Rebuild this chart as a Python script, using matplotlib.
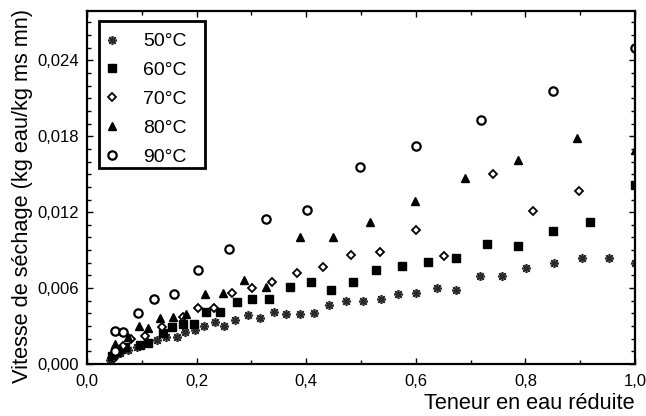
import matplotlib
matplotlib.use("Agg")
import matplotlib.pyplot as plt
from matplotlib.ticker import MultipleLocator, FuncFormatter
from matplotlib.patches import Rectangle

plt.rcParams['font.family'] = ['Liberation Sans', 'DejaVu Sans']

# 50°C
x50 = [0.042, 0.048, 0.060, 0.075, 0.091, 0.109, 0.127, 0.145, 0.164, 0.179, 0.197, 0.213, 0.233,
       0.250, 0.270, 0.293, 0.316, 0.341, 0.364, 0.389, 0.414, 0.442, 0.472, 0.503, 0.536, 0.568,
       0.601, 0.638, 0.674, 0.718, 0.757, 0.802, 0.852, 0.903, 0.953, 1.000]
y50 = [0.0003, 0.00058, 0.00084, 0.0011, 0.00137, 0.00176, 0.0019, 0.00216, 0.00216, 0.0025, 0.00268,
       0.00302, 0.00334, 0.00302, 0.00347, 0.00387, 0.00367, 0.00408, 0.00395, 0.00395, 0.00407,
       0.00466, 0.00501, 0.00501, 0.00512, 0.0055, 0.00564, 0.00598, 0.00586, 0.00692, 0.00692,
       0.00755, 0.00801, 0.00835, 0.00835, 0.00797]
# 60°C
x60 = [0.045, 0.054, 0.069, 0.097, 0.112, 0.139, 0.155, 0.175, 0.195, 0.217, 0.243, 0.274, 0.302,
       0.333, 0.370, 0.409, 0.445, 0.485, 0.527, 0.575, 0.623, 0.673, 0.730, 0.787, 0.850, 0.918, 1.000]
y60 = [0.0006, 0.00097, 0.00137, 0.0015, 0.00168, 0.00247, 0.00295, 0.00316, 0.00313, 0.00408, 0.00408,
       0.00492, 0.00511, 0.00511, 0.0061, 0.0065, 0.00588, 0.00647, 0.00742, 0.00776, 0.00803, 0.00839,
       0.00945, 0.00934, 0.01052, 0.01123, 0.01413]
# 70°C
x70 = [0.050, 0.060, 0.065, 0.080, 0.106, 0.136, 0.176, 0.203, 0.231, 0.264, 0.301, 0.338, 0.384,
       0.430, 0.482, 0.535, 0.600, 0.651, 0.741, 0.814, 0.898]
y70 = [0.0005, 0.0010, 0.0014, 0.00195, 0.00221, 0.00295, 0.00373, 0.00446, 0.00446, 0.00563, 0.00602,
       0.0065, 0.00722, 0.00768, 0.00863, 0.00884, 0.01058, 0.00853, 0.01498, 0.01208, 0.01366]
# 80°C
x80 = [0.045, 0.052, 0.060, 0.075, 0.094, 0.112, 0.133, 0.157, 0.180, 0.215, 0.248, 0.287, 0.326,
       0.389, 0.449, 0.517, 0.598, 0.689, 0.786, 0.894, 1.000]
y80 = [0.0007, 0.00158, 0.0012, 0.0021, 0.0030, 0.00282, 0.00361, 0.00369, 0.00392, 0.0055, 0.00563,
       0.00663, 0.00605, 0.01005, 0.01005, 0.01121, 0.01292, 0.01471, 0.01616, 0.01787, 0.0169]
# 90°C
x90 = [0.051, 0.051, 0.066, 0.093, 0.122, 0.158, 0.202, 0.259, 0.326, 0.401, 0.498, 0.600, 0.719,
       0.850, 1.000]
y90 = [0.00105, 0.00263, 0.00253, 0.00405, 0.00516, 0.0055, 0.00742, 0.00908, 0.01147, 0.01221,
       0.01558, 0.01724, 0.01926, 0.02155, 0.02495]

labels = ['50°C', '60°C', '70°C', '80°C', '90°C']

fig = plt.figure(figsize=(6.46, 4.16), dpi=100)
ax = fig.add_axes([87/646, 1 - 364/416, 548/646, 353/416])

ax.plot(x50, y50, linestyle='none', marker=(8, 2, 0), markersize=6.5, color='#2a2a2a',
        markeredgewidth=1.2, label=labels[0])
ax.plot(x60, y60, linestyle='none', marker='s', markersize=5.5, color='black', label=labels[1])
ax.plot(x70, y70, linestyle='none', marker='D', markersize=4, markerfacecolor='white',
        markeredgecolor='black', markeredgewidth=1.3, label=labels[2])
ax.plot(x80, y80, linestyle='none', marker='^', markersize=6, color='black', label=labels[3])
ax.plot(x90, y90, linestyle='none', marker='o', markersize=6, markerfacecolor='white',
        markeredgecolor='black', markeredgewidth=1.6, label=labels[4])

ax.set_xlim(0, 1.0)
ax.set_ylim(0, 0.0279)
ax.xaxis.set_major_locator(MultipleLocator(0.2))
ax.xaxis.set_minor_locator(MultipleLocator(0.1))
ax.yaxis.set_major_locator(MultipleLocator(0.006))
ax.yaxis.set_minor_locator(MultipleLocator(0.001))
ax.xaxis.set_major_formatter(FuncFormatter(lambda v, p: f"{v:.1f}".replace('.', ',')))
ax.yaxis.set_major_formatter(FuncFormatter(lambda v, p: f"{v:.3f}".replace('.', ',')))
ax.tick_params(which='both', direction='in', top=True, right=True, width=1, labelsize=12)
ax.tick_params(which='major', length=4)
ax.tick_params(which='minor', length=3)
ax.tick_params(axis='x', which='major', pad=7)
ax.tick_params(axis='y', which='major', pad=6)
for s in ax.spines.values():
    s.set_linewidth(1.6)

ax.set_xlabel('Teneur en eau réduite', fontsize=15.7, loc='right', labelpad=3)
ax.set_ylabel('Vitesse de séchage (kg eau/kg ms mn)', fontsize=15.7)
ax.yaxis.set_label_coords(-0.098, 0.476)

leg = ax.legend(loc='upper left', bbox_to_anchor=(0.0219, 0.9575), fontsize=14, frameon=False,
                handlelength=0.64, handletextpad=1.28, labelspacing=0.575, borderpad=0.35,
                borderaxespad=0)
ax.add_patch(Rectangle((0.0219, 0.5552), 0.2153 - 0.0219, 0.9717 - 0.5552, transform=ax.transAxes,
                       fill=False, edgecolor='black', linewidth=2, zorder=5))

fig.savefig('out.png', dpi=100)
